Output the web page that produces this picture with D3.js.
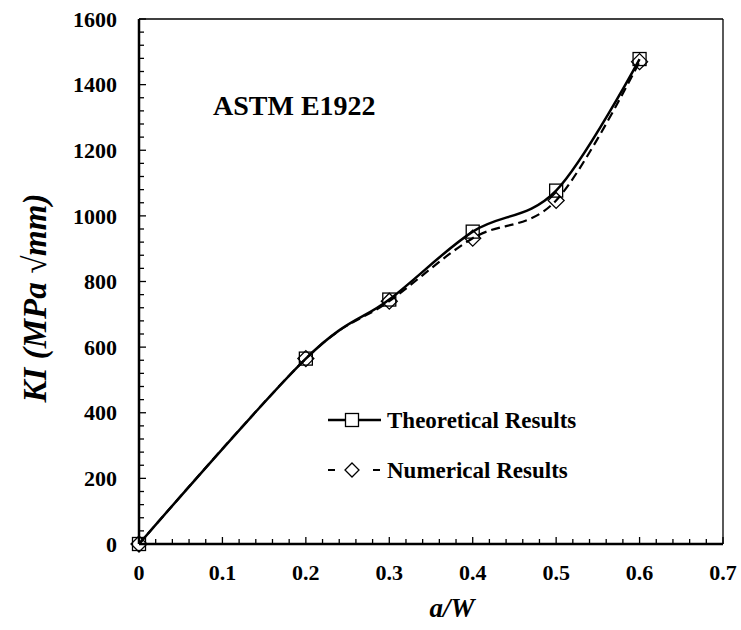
<!DOCTYPE html>
<meta charset="utf-8">
<script src="https://d3js.org/d3.v7.min.js"></script>
<style>
  body { margin: 0; background: #fff; }
  text { font-family: "Liberation Serif", "Times New Roman", serif; font-weight: bold; fill: #000; }
</style>
<div id="chart"></div>
<script>
// data
var aW = [0, 0.2, 0.3, 0.4, 0.5, 0.6];
var theoretical = [0, 565, 745, 952, 1077, 1478];
var numerical = [0, 565, 740, 932, 1047, 1470];
var xTicks = [0, 0.1, 0.2, 0.3, 0.4, 0.5, 0.6, 0.7];
var yTicks = [0, 200, 400, 600, 800, 1000, 1200, 1400, 1600];

var width = 741, height = 630;
var svg = d3.select("#chart").append("svg")
  .attr("width", width).attr("height", height);

var x = d3.scaleLinear().domain([0, 0.7]).range([139, 723]);
var y = d3.scaleLinear().domain([0, 1600]).range([544, 19]);

// frame: top and right lines thinner
svg.append("line").attr("x1", x(0)).attr("x2", x(0.7)).attr("y1", y(1600)).attr("y2", y(1600))
  .attr("stroke", "#000").attr("stroke-width", 1.3);
svg.append("line").attr("x1", x(0.7)).attr("x2", x(0.7)).attr("y1", y(1600)).attr("y2", y(0))
  .attr("stroke", "#000").attr("stroke-width", 1.3);

// minor ticks
var xMinor = d3.range(0, 0.7001, 0.02);
svg.selectAll(".xminor").data(xMinor).enter().append("line")
  .attr("x1", d => x(d)).attr("x2", d => x(d))
  .attr("y1", y(0)).attr("y2", d => y(0) - (Math.abs(d * 10 - Math.round(d * 10)) < 1e-6 ? 7 : 5))
  .attr("stroke", "#000").attr("stroke-width", 1.3);
var yMinor = d3.range(0, 1601, 40);
svg.selectAll(".yminor").data(yMinor).enter().append("line")
  .attr("x1", x(0)).attr("x2", d => x(0) + (d % 200 === 0 ? 7 : 5))
  .attr("y1", d => y(d)).attr("y2", d => y(d))
  .attr("stroke", "#000").attr("stroke-width", 1.3);

// main axes
svg.append("line").attr("x1", x(0)).attr("x2", x(0.7)).attr("y1", y(0)).attr("y2", y(0))
  .attr("stroke", "#000").attr("stroke-width", 2.5);
svg.append("line").attr("x1", x(0)).attr("x2", x(0)).attr("y1", y(0)).attr("y2", y(1600))
  .attr("stroke", "#000").attr("stroke-width", 2.5);

// tick labels
svg.selectAll(".xl").data(xTicks).enter().append("text")
  .attr("x", d => x(d)).attr("y", 580)
  .attr("text-anchor", "middle").style("font-size", "22px")
  .text(d => d === 0 ? "0" : d3.format(".1f")(d));
svg.selectAll(".yl").data(yTicks).enter().append("text")
  .attr("x", 117).attr("y", d => y(d)).attr("dy", "0.35em")
  .attr("text-anchor", "end").style("font-size", "22px")
  .text(d => d);

// axis titles
svg.append("text").attr("x", 452).attr("y", 617)
  .attr("text-anchor", "middle").style("font-size", "27px").style("font-style", "italic")
  .text("a/W");
svg.append("text")
  .attr("transform", "translate(46,298) rotate(-90)")
  .attr("text-anchor", "middle").style("font-size", "33px").style("font-style", "italic")
  .text("KI (MPa √mm)");

svg.append("text").attr("x", 213).attr("y", 115)
  .style("font-size", "28px").text("ASTM E1922");

// curves
var line = d3.line().curve(d3.curveCatmullRom.alpha(0))
  .x(d => x(d[0])).y(d => y(d[1]));

svg.append("path").datum(aW.map((a, i) => [a, numerical[i]]))
  .attr("d", line).attr("fill", "none").attr("stroke", "#000")
  .attr("stroke-width", 2.2).attr("stroke-dasharray", "9,5");
svg.append("path").datum(aW.map((a, i) => [a, theoretical[i]]))
  .attr("d", line).attr("fill", "none").attr("stroke", "#000")
  .attr("stroke-width", 2.5);

// markers
var sq = 13, dm = 8;
svg.selectAll(".sq").data(aW.map((a, i) => [a, theoretical[i]])).enter().append("rect")
  .attr("x", d => x(d[0]) - sq / 2).attr("y", d => y(d[1]) - sq / 2)
  .attr("width", sq).attr("height", sq)
  .attr("fill", "none").attr("stroke", "#000").attr("stroke-width", 1.3);
function diamond(cx, cy, r) {
  r = r || dm;
  return "M" + cx + "," + (cy - r) + "L" + (cx + r) + "," + cy + "L" + cx + "," + (cy + r) + "L" + (cx - r) + "," + cy + "Z";
}
svg.selectAll(".dm").data(aW.map((a, i) => [a, numerical[i]])).enter().append("path")
  .attr("d", d => diamond(x(d[0]), y(d[1])))
  .attr("fill", "none").attr("stroke", "#000").attr("stroke-width", 1.3);

// legend
var lg = svg.append("g");
lg.append("line").attr("x1", 328).attr("x2", 381).attr("y1", 420).attr("y2", 420)
  .attr("stroke", "#000").attr("stroke-width", 2.5);
lg.append("rect").attr("x", 352 - 6.5).attr("y", 420 - 6.5).attr("width", 13).attr("height", 13)
  .attr("fill", "#fff").attr("stroke", "#000").attr("stroke-width", 1.3);
lg.append("text").attr("x", 387).attr("y", 420).attr("dy", "0.35em")
  .style("font-size", "23px").text("Theoretical Results");
lg.append("line").attr("x1", 328).attr("x2", 381).attr("y1", 470).attr("y2", 470)
  .attr("stroke", "#000").attr("stroke-width", 2.2).attr("stroke-dasharray", "7,38");
lg.append("path").attr("d", diamond(352, 470, 7))
  .attr("fill", "#fff").attr("stroke", "#000").attr("stroke-width", 1.3);
lg.append("text").attr("x", 387).attr("y", 470).attr("dy", "0.35em")
  .style("font-size", "23px").text("Numerical Results");
</script>
